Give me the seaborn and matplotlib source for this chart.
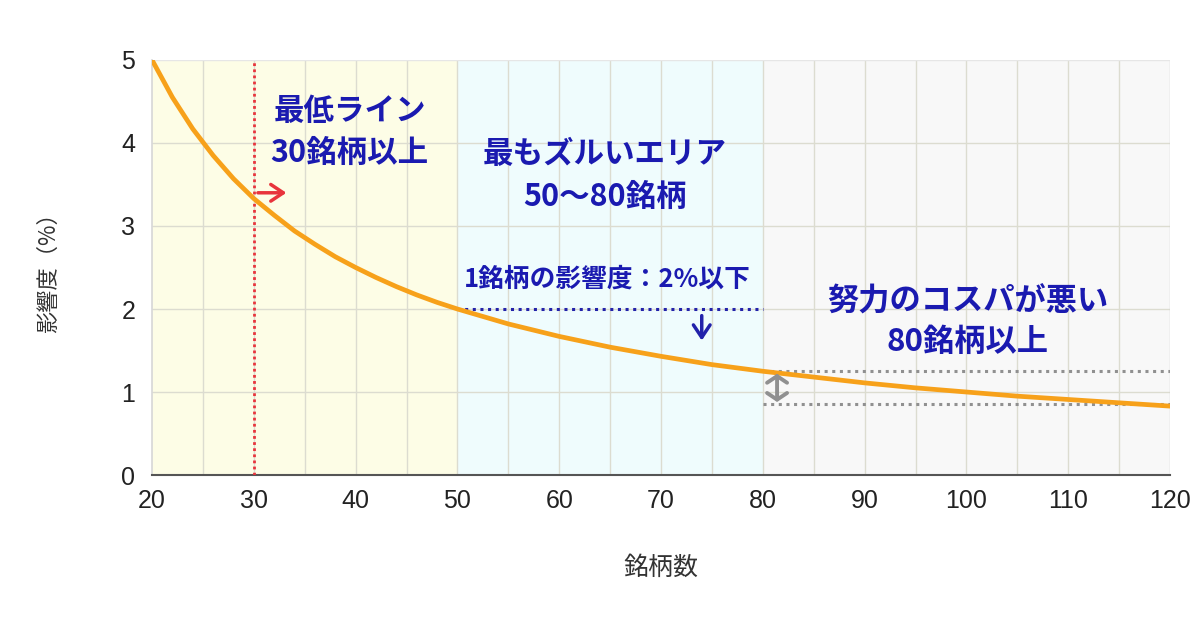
import matplotlib
matplotlib.use('Agg')
import matplotlib.pyplot as plt
import seaborn as sns
import pandas as pd

# データ（読み取り値）
銘柄数 = [20, 22, 24, 26, 28, 30, 32, 34, 36, 38, 40, 42, 44, 46, 48, 50,
          55, 60, 65, 70, 75, 80, 85, 90, 95, 100, 105, 110, 115, 120]
影響度 = [5.00, 4.55, 4.17, 3.85, 3.57, 3.33, 3.13, 2.94, 2.78, 2.63, 2.50, 2.38, 2.27, 2.17, 2.08, 2.00,
          1.82, 1.67, 1.54, 1.43, 1.33, 1.25, 1.18, 1.11, 1.05, 1.00, 0.95, 0.91, 0.87, 0.83]
区間 = [(20, 50), (50, 80), (80, 120)]
区間色 = ['#fdfde6', '#effcfd', '#f8f8f8']
下限ライン = 30
基準値 = 2.0
幅上 = 1.25
幅下 = 0.85

df = pd.DataFrame({'銘柄数': 銘柄数, '影響度': 影響度})

sns.set_theme(style='white')
plt.rcParams['font.family'] = ['Liberation Sans', 'Noto Sans CJK JP', 'DejaVu Sans']

fig = plt.figure(figsize=(12, 6.28), dpi=100)
ax = fig.add_axes([0.1267, 0.2436, 0.8483, 0.6609])

# 背景の区間
for (a, b), c in zip(区間, 区間色):
    ax.axvspan(a, b, color=c, zorder=0, lw=0)

# グリッド
for xv in range(25, 120, 5):
    ax.axvline(xv, color='#dcdcd0', lw=1, zorder=1)
for yv in [1, 2, 3, 4]:
    ax.axhline(yv, color='#dcdcd0', lw=1, zorder=1)
ax.axvline(120, color='#d0d0d0', lw=1, zorder=1)
ax.axhline(5, color='#e6e6e6', lw=1, zorder=1)

sns.lineplot(data=df, x='銘柄数', y='影響度', color='#f7a11a', lw=3.4, ax=ax, zorder=5)

# 注釈線
ax.axvline(下限ライン, color='#e8343c', lw=2, ls=(0, (1, 1.2)), zorder=4)
ax.plot([50, 80], [基準値, 基準値], color='#2222aa', lw=2.2, ls=(0, (1, 1.5)), zorder=4)
ax.plot([80, 120], [幅上, 幅上], color='#909090', lw=2.2, ls=(0, (1, 1.5)), zorder=4)
ax.plot([80, 120], [幅下, 幅下], color='#909090', lw=2.2, ls=(0, (1, 1.5)), zorder=4)

# 矢印
ax.annotate('', xy=(33.2, 3.4), xytext=(30.4, 3.4),
            arrowprops=dict(arrowstyle='->,head_length=0.45,head_width=0.3', color='#e8343c',
                            lw=2.5, mutation_scale=20, shrinkA=0, shrinkB=0), zorder=6)
ax.annotate('', xy=(74, 1.62), xytext=(74, 1.92),
            arrowprops=dict(arrowstyle='->,head_length=0.45,head_width=0.3', color='#2222aa',
                            lw=2.5, mutation_scale=20, shrinkA=0, shrinkB=0), zorder=6)
ax.annotate('', xy=(81.4, 幅下 + 0.03), xytext=(81.4, 幅上 - 0.03),
            arrowprops=dict(arrowstyle='<->,head_length=0.3,head_width=0.45', color='#909090',
                            lw=2.8, mutation_scale=16, shrinkA=0, shrinkB=0), zorder=6)

jp = ['Noto Sans CJK JP', 'DejaVu Sans']
tc = '#1a1ab0'
ax.text(39.4, 4.13, '最低ライン\n30銘柄以上', ha='center', va='center', fontsize=22,
        fontweight='bold', color=tc, family=jp, linespacing=1.4, zorder=7)
ax.text(64.5, 3.61, '最もズルいエリア\n50〜80銘柄', ha='center', va='center', fontsize=22,
        fontweight='bold', color=tc, family=jp, linespacing=1.45, zorder=7)
ax.text(64.7, 2.36, '1銘柄の影響度：2%以下', ha='center', va='center', fontsize=18.5,
        fontweight='bold', color=tc, family=jp, zorder=7)
ax.text(100.1, 1.85, '努力のコスパが悪い\n80銘柄以上', ha='center', va='center', fontsize=22.5,
        fontweight='bold', color=tc, family=jp, linespacing=1.35, zorder=7)

ax.set_xlim(20, 120)
ax.set_ylim(0, 5)
ax.set_xticks(range(20, 121, 10))
ax.set_yticks(range(0, 6))
ax.tick_params(axis='x', labelsize=18, colors='#222222', length=0, pad=10)
ax.tick_params(axis='y', labelsize=18, colors='#222222', length=0, pad=12)
ax.set_xlabel('銘柄数', fontsize=18, family=jp, labelpad=30, color='#333333')
ax.set_ylabel('影響度（%）', fontsize=16, family=jp, labelpad=44, color='#333333')

for s in ['top', 'right']:
    ax.spines[s].set_visible(False)
ax.spines['left'].set_color('#d8d8d8')
ax.spines['bottom'].set_color('#555555')
ax.spines['bottom'].set_linewidth(1.5)

fig.savefig('out.png', dpi=100)
